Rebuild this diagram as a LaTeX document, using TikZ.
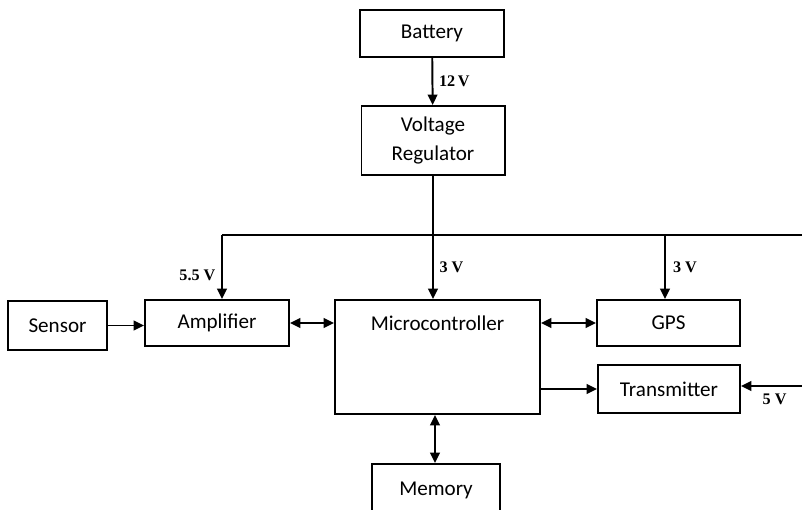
\documentclass[tikz,border=0pt]{standalone}
\usepackage{fontspec}
\setmainfont{Carlito}
\newfontfamily\voltfont{Liberation Serif}
\usepackage{tikz}
\usetikzlibrary{positioning,arrows.meta,calc}

\begin{document}
\begin{tikzpicture}[
  x=0.025cm, y=-0.025cm,
  block/.style={draw, rectangle, line width=1.4pt, minimum width=3.6cm, minimum height=1.15cm, align=center, font=\fontsize{15}{17}\selectfont, inner sep=0pt},
  arr/.style={-{Triangle[length=2.6mm,width=2.4mm]}, line width=1.4pt},
  darr/.style={{Triangle[length=2.6mm,width=2.4mm]}-{Triangle[length=2.6mm,width=2.4mm]}, line width=1.4pt},
  volt/.style={font=\voltfont\bfseries\fontsize{11.5}{13}\selectfont, inner sep=1pt},
]
  \clip (0,0) rectangle (802,510);

  \node[block, minimum height=1.175cm]                      (bat)  at (432,33.5)   {Battery};
  \node[block, minimum width=3.575cm, minimum height=1.725cm] (reg)  at (433,140.5) {Voltage\\[3pt]Regulator};
  \node[block, minimum width=2.475cm, minimum height=1.225cm] (sens) at (57.5,325.5) {Sensor};
  \node[block]                                              (amp)  at (217,323)    {Amplifier};
  \node[block, minimum width=5.125cm, minimum height=2.85cm,
        label={[font=\fontsize{15}{17}\selectfont, anchor=north, yshift=-0.3cm]north:Microcontroller}] (mcu) at (437.5,357) {};
  \node[block, minimum width=3.575cm]                       (gps)  at (668.5,323)  {GPS};
  \node[block, minimum width=3.55cm, minimum height=1.2cm]  (tx)   at (669,389)    {Transmitter};
  \node[block, minimum width=3.2cm, minimum height=1.3cm]   (mem)  at (436,490)    {Memory};

  % supply rail
  \coordinate (railL) at (222,235);
  \coordinate (railR) at (802,235);
  \coordinate (railG) at (665,235);
  \coordinate (vin)   at (802,386);

  \draw[arr] (bat) -- node[volt, right=3pt] {12\,V} (reg);
  \draw[line width=1.4pt] (railR) -- (railL);
  \draw[arr] (reg.south) -- node[volt, pos=0.74, right=3pt] {3 V} (reg.south |- mcu.north);
  \draw[arr] (railL) -- node[volt, pos=0.63, left=3pt] {5.5 V} (railL |- amp.north);
  \draw[arr] (railG) -- node[volt, pos=0.5, right=4pt] {3 V} (railG |- gps.north);

  \draw[arr]  (sens.east) -- (sens.east -| amp.west);
  \draw[darr] (amp.east) -- (amp.east -| mcu.west);
  \draw[darr] (gps.west -| mcu.east) -- (gps.west);
  \draw[arr]  (tx.west -| mcu.east) -- (tx.west);
  \draw[arr]  (vin) -- node[volt, pos=0.45, below=4pt] {5 V} (vin -| tx.east);
  \draw[darr] (mem.north -| 435,0) -- (435,0 |- mcu.south);
\end{tikzpicture}
\end{document}
